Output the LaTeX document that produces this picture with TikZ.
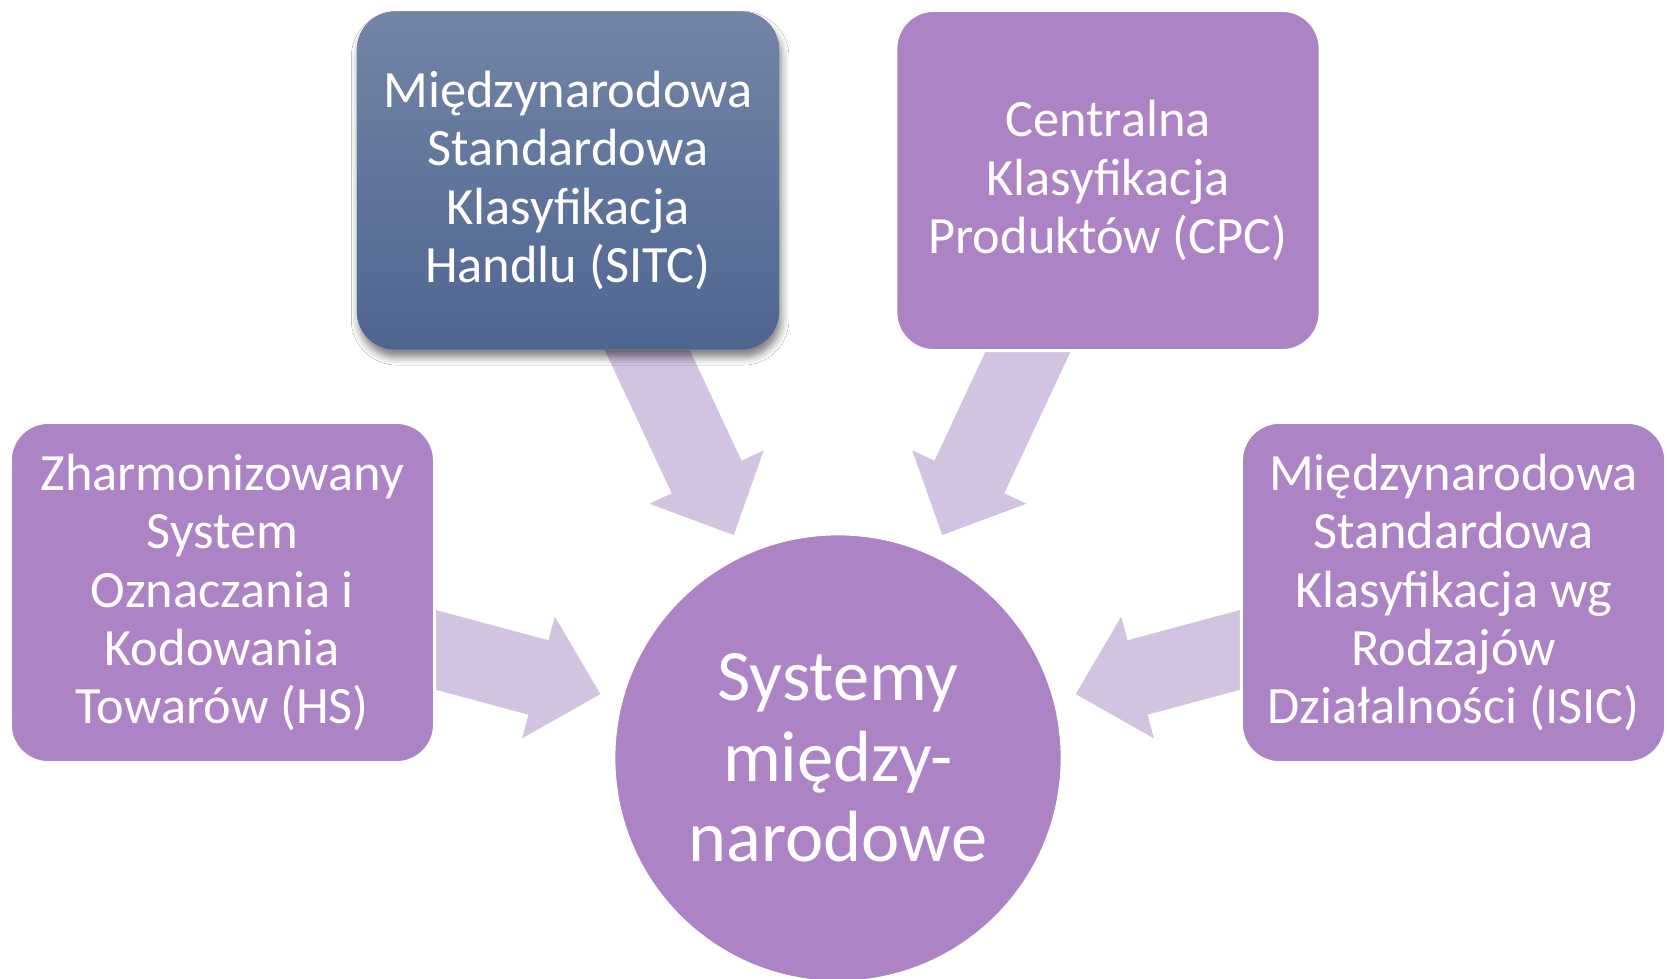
\documentclass[tikz,border=0pt]{standalone}
\usepackage{fontspec}
\setmainfont{Carlito}
\usetikzlibrary{calc,shadows.blur,backgrounds}
\definecolor{boxpurple}{RGB}{172,131,197}
\definecolor{arrowlilac}{RGB}{210,195,224}
\definecolor{sitctop}{RGB}{114,133,167}
\definecolor{sitcbot}{RGB}{79,101,145}
\newcommand\blockarrow[2]{%
  \coordinate (#2-b) at ($(#2)!0.64cm!(#1)$);
  \fill[arrowfill]
    ($(#1)!0.385cm!90:(#2)$) -- ($(#2-b)!0.385cm!90:(#2)$) --
    ($(#2-b)!0.63cm!90:(#2)$) -- (#2) --
    ($(#2-b)!0.63cm!-90:(#2)$) -- ($(#2-b)!0.385cm!-90:(#2)$) --
    ($(#1)!0.385cm!-90:(#2)$) -- cycle;
}
\tikzset{
  box/.style={rectangle, rounded corners=0.38cm, minimum width=4.24cm,
    minimum height=3.40cm, draw=white, line width=0.85pt, fill=boxpurple,
    text=white, align=center, inner sep=0pt,
    font=\fontsize{14.9}{16.6}\selectfont},
  darkbox/.style={box, draw=none, minimum width=4.22cm, minimum height=3.38cm,
    top color=sitctop, bottom color=sitcbot,
    blur shadow={shadow xshift=0.6pt, shadow yshift=-2.2pt,
      shadow blur radius=2.2pt, shadow opacity=50}},
  hub/.style={circle, minimum size=4.48cm, draw=white, line width=0.85pt,
    fill=boxpurple, text=white, align=center, inner sep=0pt,
    font=\fontsize{20.6}{22.9}\selectfont},
  arrowfill/.style={fill=arrowlilac}
}
\begin{document}
\begin{tikzpicture}[x=0.01cm,y=-0.01cm]
\useasboundingbox (0,0) rectangle (1669,979);

\node[box] (hs) at (222.4,592.5) {Zharmonizowany\\System\\Oznaczania i\\Kodowania\\Towarów (HS)};
\node[darkbox] (sitc) at (568,180.5) {Międzynarodowa\\Standardowa\\Klasyfikacja\\Handlu (SITC)};
\node[box] (cpc) at (1108,180.5) {Centralna\\Klasyfikacja\\Produktów (CPC)};
\node[box] (isic) at (1453.6,592.5) {Międzynarodowa\\Standardowa\\Klasyfikacja wg\\Rodzajów\\Działalności (ISIC)};
\node[hub] (c) at (838,758) {Systemy\\między-\\narodowe};

\begin{pgfonlayer}{background}
  \fill[white] (0,0) rectangle (1669,979);
  \coordinate (ths) at ($(c.center)!2.46cm!(hs.center)$);
  \coordinate (tsitc) at ($(c.center)!2.46cm!(sitc.center)$);
  \coordinate (tcpc) at ($(c.center)!2.46cm!(cpc.center)$);
  \coordinate (tisic) at ($(c.center)!2.46cm!(isic.center)$);
  \blockarrow{hs.center}{ths}
  \blockarrow{sitc.center}{tsitc}
  \blockarrow{cpc.center}{tcpc}
  \blockarrow{isic.center}{tisic}
\end{pgfonlayer}
\end{tikzpicture}
\end{document}
